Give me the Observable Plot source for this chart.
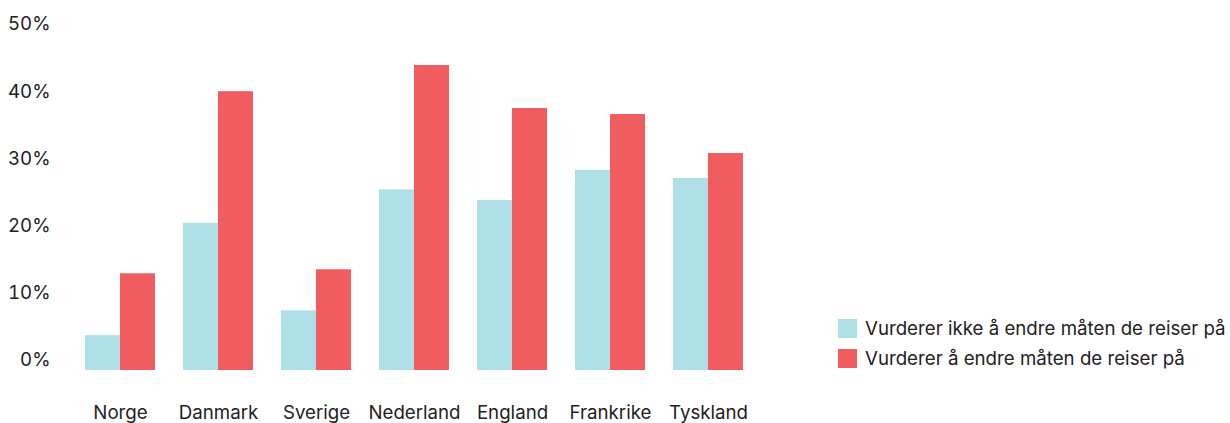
<!DOCTYPE html>
<html>
<head>
<meta charset="utf-8">
<script src="https://cdn.jsdelivr.net/npm/d3@7"></script>
<script src="https://cdn.jsdelivr.net/npm/@observablehq/plot@0.6"></script>
<style>
  html, body { margin: 0; padding: 0; background: #fff; }
  #wrap { position: relative; width: 1230px; height: 423px; font-family: Inter, Lato, "Noto Sans", sans-serif; color: #222; }
  #legend { position: absolute; left: 838px; top: 319px; font-size: 18.7px; }
  .item { display: flex; align-items: center; height: 19px; margin-bottom: 11px; }
  .sw { width: 19px; height: 19px; margin-right: 8px; flex: none; }
</style>
</head>
<body>
<div id="wrap"></div>
<script>
const countries = ["Norge", "Danmark", "Sverige", "Nederland", "England", "Frankrike", "Tyskland"];
const seriesNames = ["Vurderer ikke å endre måten de reiser på", "Vurderer å endre måten de reiser på"];
const ikkeEndre = [3.7, 20.4, 7.4, 25.4, 23.8, 28.3, 27.1];
const endre = [12.9, 40.0, 13.5, 43.9, 37.5, 36.6, 30.8];
const yTicks = [0, 10, 20, 30, 40, 50];
const colors = ["#afe0e8", "#f05c5f"];

const data = countries.flatMap((c, i) => [
  {country: c, series: seriesNames[0], value: ikkeEndre[i]},
  {country: c, series: seriesNames[1], value: endre[i]}
]);

const chart = Plot.plot({
  width: 1230,
  height: 423,
  marginLeft: 54,
  marginRight: 457,
  marginTop: 24,
  marginBottom: 63,
  style: {fontFamily: 'Inter, Lato, "Noto Sans", sans-serif', fontSize: "18.7px", color: "#222", background: "#fff"},
  fx: {domain: countries, paddingInner: 0.29, paddingOuter: 0.29, label: null, axis: "bottom", tickSize: 0, tickPadding: 45},
  x: {domain: seriesNames, axis: null, padding: 0},
  y: {domain: [0, 50], label: null, ticks: yTicks, tickSize: 0, tickPadding: 35, tickFormat: d => d + "%"},
  color: {domain: seriesNames, range: colors},
  marks: [
    Plot.barY(data, {fx: "country", x: "series", y: "value", fill: "series", insetBottom: -10})
  ]
});

const wrap = document.getElementById("wrap");
wrap.appendChild(chart);

const legend = d3.select(wrap).append("div").attr("id", "legend");
const items = legend.selectAll(".item").data(seriesNames).join("div").attr("class", "item");
items.append("div").attr("class", "sw").style("background", (d, i) => colors[i]);
items.append("span").text(d => d);
</script>
</body>
</html>
